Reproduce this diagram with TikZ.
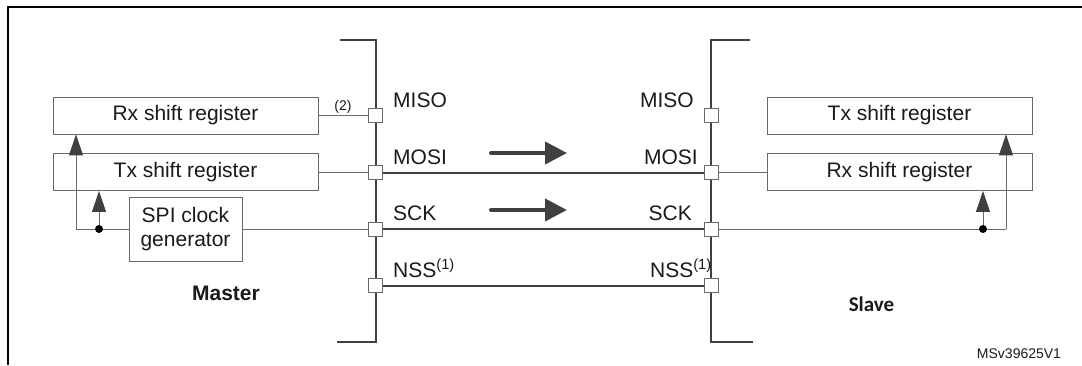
\documentclass[tikz,border=0pt]{standalone}
\usepackage{fontspec}
\setmainfont{Liberation Sans}
\newfontfamily\carlito{Carlito}
\usetikzlibrary{arrows.meta}
\definecolor{ln}{HTML}{404040}
\definecolor{bx}{HTML}{6A6A6A}
\definecolor{tx}{HTML}{1A1A1A}
\begin{document}
\begin{tikzpicture}[x=1pt,y=-1pt,
  big/.style={font=\fontsize{21}{24}\selectfont,text=tx},
  reg/.style={draw=bx,line width=0.9pt,minimum width=265pt,minimum height=37pt,inner sep=0pt,big},
  pin/.style={draw=bx,fill=white,line width=0.9pt,minimum size=14pt,inner sep=0pt},
  bus/.style={draw=ln,line width=2pt},
  wire/.style={draw=bx,line width=1pt},
  lbl/.style={big,inner sep=0pt},
  small/.style={font=\fontsize{14}{16}\selectfont,text=tx,inner sep=0pt},
  upar/.style={-{Triangle[length=21pt,width=14pt,color=ln]},draw=bx,line width=1pt},
  bigar/.style={-{Triangle[length=22pt,width=22pt]},draw=ln,line width=4pt,line cap=round},
]
\useasboundingbox (0,0) rectangle (1082,365);
\fill[white] (0,0) rectangle (1082,365);
% partial frame
\draw[black,line width=2.5pt] (1082,7) -- (8,7) -- (8,365);

% brackets
\coordinate (mb1) at (340,40);
\coordinate (mb2) at (375.5,40);
\coordinate (mb3) at (375.5,342);
\coordinate (mb4) at (337,342);
\coordinate (sb1) at (750,40);
\coordinate (sb2) at (711,40);
\coordinate (sb3) at (711,342);
\coordinate (sb4) at (753,342);
\draw[bus] (mb1) -- (mb2) -- (mb3) -- (mb4);
\draw[bus] (sb1) -- (sb2) -- (sb3) -- (sb4);

% master boxes
\node[reg] (mrx) at (185.5,115.5) {Rx shift register};
\node[reg] (mtx) at (185.5,172) {Tx shift register};
\node[draw=bx,line width=0.9pt,minimum width=113pt,minimum height=64pt,inner sep=0pt,align=center,big] (clk) at (185.5,229) {SPI clock\\generator};

% slave boxes
\node[reg] (stx) at (899.5,115.5) {Tx shift register};
\node[reg] (srx) at (899.5,172) {Rx shift register};

% pins
\node[pin] (mmiso) at (375.5,115.5) {};
\node[pin] (mmosi) at (375.5,172.5) {};
\node[pin] (msck) at (375.5,229) {};
\node[pin] (mnss) at (375.5,285.5) {};
\node[pin] (smiso) at (711,115.5) {};
\node[pin] (smosi) at (711,172.5) {};
\node[pin] (ssck) at (711,229) {};
\node[pin] (snss) at (711,285.5) {};

% master wires
\draw[wire] (mrx.east) -- (mmiso.west);
\draw[wire] (mtx.east) -- (mtx.east -| mmosi.west);
\draw[wire] (clk.east) -- (clk.east -| msck.west);
\coordinate (mcorner) at (76,229);
\coordinate (mdot) at (99,229);
\draw[wire] (clk.west) -- (mcorner);
\draw[upar] (mcorner) -- (mcorner |- mrx.south);
\draw[upar] (mdot) -- (mdot |- mtx.south);
\fill[black] (mdot) circle (4pt);

% buses between devices
\draw[bus] (mmosi.east) -- (smosi.west);
\draw[bus] (msck.east) -- (ssck.west);
\draw[bus] (mnss.east) -- (snss.west);

% slave wires
\draw[wire] (smosi.east) -- (smosi.east -| srx.west);
\coordinate (scorner) at (1006,229);
\coordinate (sdot) at (983,229);
\draw[wire] (ssck.east) -- (scorner);
\draw[upar] (scorner) -- (scorner |- stx.south);
\draw[upar] (sdot) -- (sdot |- srx.south);
\fill[black] (sdot) circle (4pt);

% direction arrows
\coordinate (a1s) at (491,153);
\coordinate (a1e) at (567,153);
\coordinate (a2s) at (491,210);
\coordinate (a2e) at (567,210);
\draw[bigar] (a1s) -- (a1e);
\draw[bigar] (a2s) -- (a2e);

% labels
\node[lbl,anchor=base west] (lm1) at (393,107) {MISO};
\node[lbl,anchor=base west] (lm2) at (393,164) {MOSI};
\node[lbl,anchor=base west] (lm3) at (393,220) {SCK};
\node[lbl,anchor=base west] (lm4) at (393,277) {NSS\textsuperscript{(1)}};
\node[lbl,anchor=base east] (ls1) at (694,107) {MISO};
\node[lbl,anchor=base east] (ls2) at (698,164) {MOSI};
\node[lbl,anchor=base east] (ls3) at (692,220) {SCK};
\node[lbl,anchor=base east] (ls4) at (712,277) {NSS\textsuperscript{(1)}};
\node[small,anchor=base] (n2) at (343,110) {(2)};

\node[lbl,anchor=base,font=\fontsize{21}{24}\selectfont\bfseries] (master) at (226,300) {Master};
\node[lbl,anchor=base,font=\fontsize{21}{24}\selectfont\carlito\bfseries] (slave) at (871.5,311) {Slave};
\node[small,anchor=base] (ref) at (1019,358) {MSv39625V1};
\end{tikzpicture}
\end{document}
